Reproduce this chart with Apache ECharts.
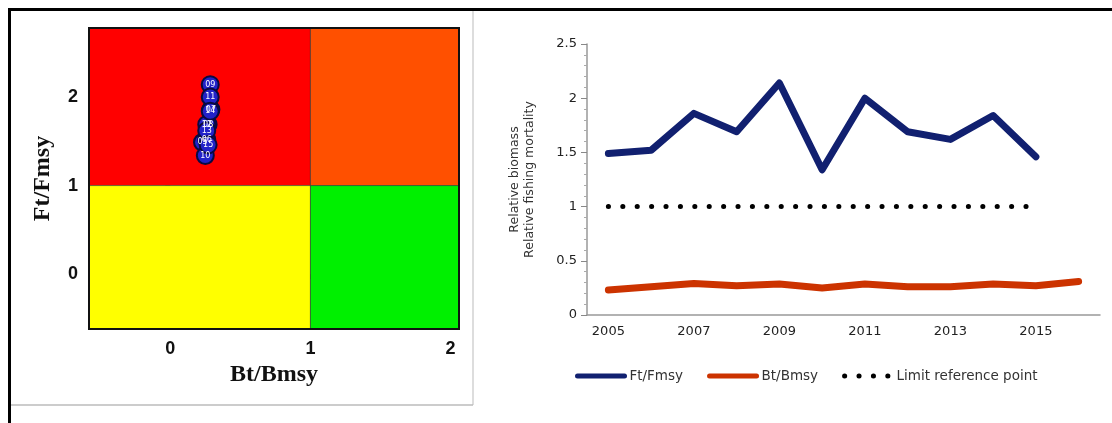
<!DOCTYPE html>
<html>
<head>
<meta charset="utf-8">
<script src="https://cdn.jsdelivr.net/npm/echarts@6/dist/echarts.min.js"></script>
<style>
  html, body { margin: 0; padding: 0; background: #fff; }
  #chart { width: 1112px; height: 423px; }
</style>
</head>
<body>
<div id="chart"></div>
<script>
// years and series
var years = ['2005', '2006', '2007', '2008', '2009', '2010', '2011', '2012', '2013', '2014', '2015', '2016'];
var ftFmsy = [1.49, 1.52, 1.86, 1.69, 2.14, 1.34, 2.00, 1.69, 1.62, 1.84, 1.46, null];
var btBmsy = [0.23, 0.26, 0.29, 0.27, 0.285, 0.25, 0.285, 0.26, 0.26, 0.285, 0.27, 0.31];
var limitRef = [1, 1, 1, 1, 1, 1, 1, 1, 1, 1, 1, null];

// kobe plot extents and reference
var kobeX = [-0.58, 2.06];
var kobeY = [-0.62, 2.78];
var kobeRef = 1;
var kobeTicks = [0, 1, 2];

// points for the kobe plot: [Bt/Bmsy, Ft/Fmsy, year label]
var kobePts = [];
for (var i = 0; i < years.length; i++) {
  if (ftFmsy[i] != null) kobePts.push([btBmsy[i], ftFmsy[i], years[i].slice(2)]);
}

var chart = echarts.init(document.getElementById('chart'));

var boldSans = { fontFamily: 'Liberation Sans', fontWeight: 'bold', fontSize: 18, color: '#111' };
var boldSerif = { fontFamily: 'Liberation Serif', fontWeight: 'bold', fontSize: 24, color: '#111' };
var plain = 'DejaVu Sans';

option = {
  backgroundColor: '#fff',
  animation: false,
  graphic: [
    { type: 'rect', shape: { x: 8, y: 8, width: 1104, height: 3 }, style: { fill: '#000' }, z: 100 },
    { type: 'rect', shape: { x: 8, y: 8, width: 3, height: 415 }, style: { fill: '#000' }, z: 100 },
    { type: 'line', shape: { x1: 11, y1: 405, x2: 473, y2: 405 }, style: { stroke: '#999', lineWidth: 1 }, z: 100 },
    { type: 'line', shape: { x1: 473, y1: 11, x2: 473, y2: 405 }, style: { stroke: '#bbb', lineWidth: 1 }, z: 100 }
  ],
  grid: [
    { left: 89, top: 28, width: 370, height: 301, show: true, borderColor: '#111', borderWidth: 2, z: 10 },
    { left: 587, top: 44, right: 12, height: 271 }
  ],
  xAxis: [
    {
      gridIndex: 0, type: 'value', min: kobeX[0], max: kobeX[1],
      name: 'Bt/Bmsy', nameLocation: 'middle', nameGap: 34, nameTextStyle: boldSerif,
      splitLine: { show: false },
      axisLine: { show: false },
      axisTick: { show: true, length: 5, lineStyle: { color: '#888' }, customValues: kobeTicks },
      axisLabel: Object.assign({ margin: 11, customValues: kobeTicks }, boldSans)
    },
    {
      gridIndex: 1, type: 'category', data: years, boundaryGap: true,
      axisLine: { lineStyle: { color: '#999', width: 1.5 } },
      axisTick: { length: 6, lineStyle: { color: '#888' } },
      axisLabel: { interval: 1, color: '#222', fontFamily: plain, fontSize: 13, margin: 10 }
    }
  ],
  yAxis: [
    {
      gridIndex: 0, type: 'value', min: kobeY[0], max: kobeY[1],
      name: 'Ft/Fmsy', nameLocation: 'middle', nameGap: 34, nameTextStyle: boldSerif,
      splitLine: { show: false },
      axisLine: { show: false },
      axisTick: { show: true, length: 5, lineStyle: { color: '#888' }, customValues: kobeTicks },
      axisLabel: Object.assign({ margin: 11, customValues: kobeTicks }, boldSans)
    },
    {
      gridIndex: 1, type: 'value', min: 0, max: 2.5, interval: 0.5,
      name: 'Relative biomass\nRelative fishing mortality', nameLocation: 'middle', nameGap: 50,
      nameTextStyle: { fontFamily: plain, fontSize: 12.5, color: '#333', lineHeight: 15 },
      splitLine: { show: false },
      axisLine: { show: true, lineStyle: { color: '#999', width: 1.5 } },
      axisTick: { show: true, length: 6, lineStyle: { color: '#888' } },
      minorTick: { show: true, splitNumber: 5, length: 3, lineStyle: { color: '#aaa' } },
      axisLabel: { color: '#222', fontFamily: plain, fontSize: 13, margin: 10 }
    }
  ],
  legend: {
    left: 575, top: 369, padding: 0, itemGap: 24, itemWidth: 47, itemHeight: 1,
    itemStyle: { opacity: 0 },
    textStyle: { fontFamily: plain, fontSize: 13.5, color: '#333' },
    data: [
      { name: 'Ft/Fmsy', lineStyle: { width: 5 } },
      { name: 'Bt/Bmsy', lineStyle: { width: 5 } },
      { name: 'Limit reference point', lineStyle: { width: 5 } }
    ]
  },
  series: [
    {
      name: 'kobe', type: 'scatter', xAxisIndex: 0, yAxisIndex: 0,
      data: kobePts, symbolSize: 17,
      itemStyle: { color: '#2222c8', borderColor: '#0a0a40', borderWidth: 2, opacity: 1 },
      label: {
        show: true, position: 'inside', color: '#fff', fontSize: 8, fontFamily: plain,
        formatter: function (p) { return p.value[2]; }
      },
      markArea: {
        silent: true,
        itemStyle: { borderColor: '#333', borderWidth: 0.6 },
        data: [
          [{ xAxis: kobeX[0], yAxis: kobeRef, itemStyle: { color: '#ff0000' } }, { xAxis: kobeRef, yAxis: kobeY[1] }],
          [{ xAxis: kobeRef, yAxis: kobeRef, itemStyle: { color: '#ff5000' } }, { xAxis: kobeX[1], yAxis: kobeY[1] }],
          [{ xAxis: kobeX[0], yAxis: kobeY[0], itemStyle: { color: '#ffff00' } }, { xAxis: kobeRef, yAxis: kobeRef }],
          [{ xAxis: kobeRef, yAxis: kobeY[0], itemStyle: { color: '#00f000' } }, { xAxis: kobeX[1], yAxis: kobeRef }]
        ]
      }
    },
    {
      name: 'Ft/Fmsy', type: 'line', xAxisIndex: 1, yAxisIndex: 1, data: ftFmsy,
      symbol: 'none', color: '#112070',
      lineStyle: { width: 7, color: '#112070', cap: 'round', join: 'round' }
    },
    {
      name: 'Bt/Bmsy', type: 'line', xAxisIndex: 1, yAxisIndex: 1, data: btBmsy,
      symbol: 'none', color: '#cc3300',
      lineStyle: { width: 7, color: '#cc3300', cap: 'round', join: 'round' }
    },
    {
      name: 'Limit reference point', type: 'line', xAxisIndex: 1, yAxisIndex: 1, data: limitRef,
      symbol: 'none', color: '#000',
      lineStyle: { width: 5, color: '#000', type: [0.1, 14.3], cap: 'round' }
    }
  ]
};

chart.setOption(option);
</script>
</body>
</html>
